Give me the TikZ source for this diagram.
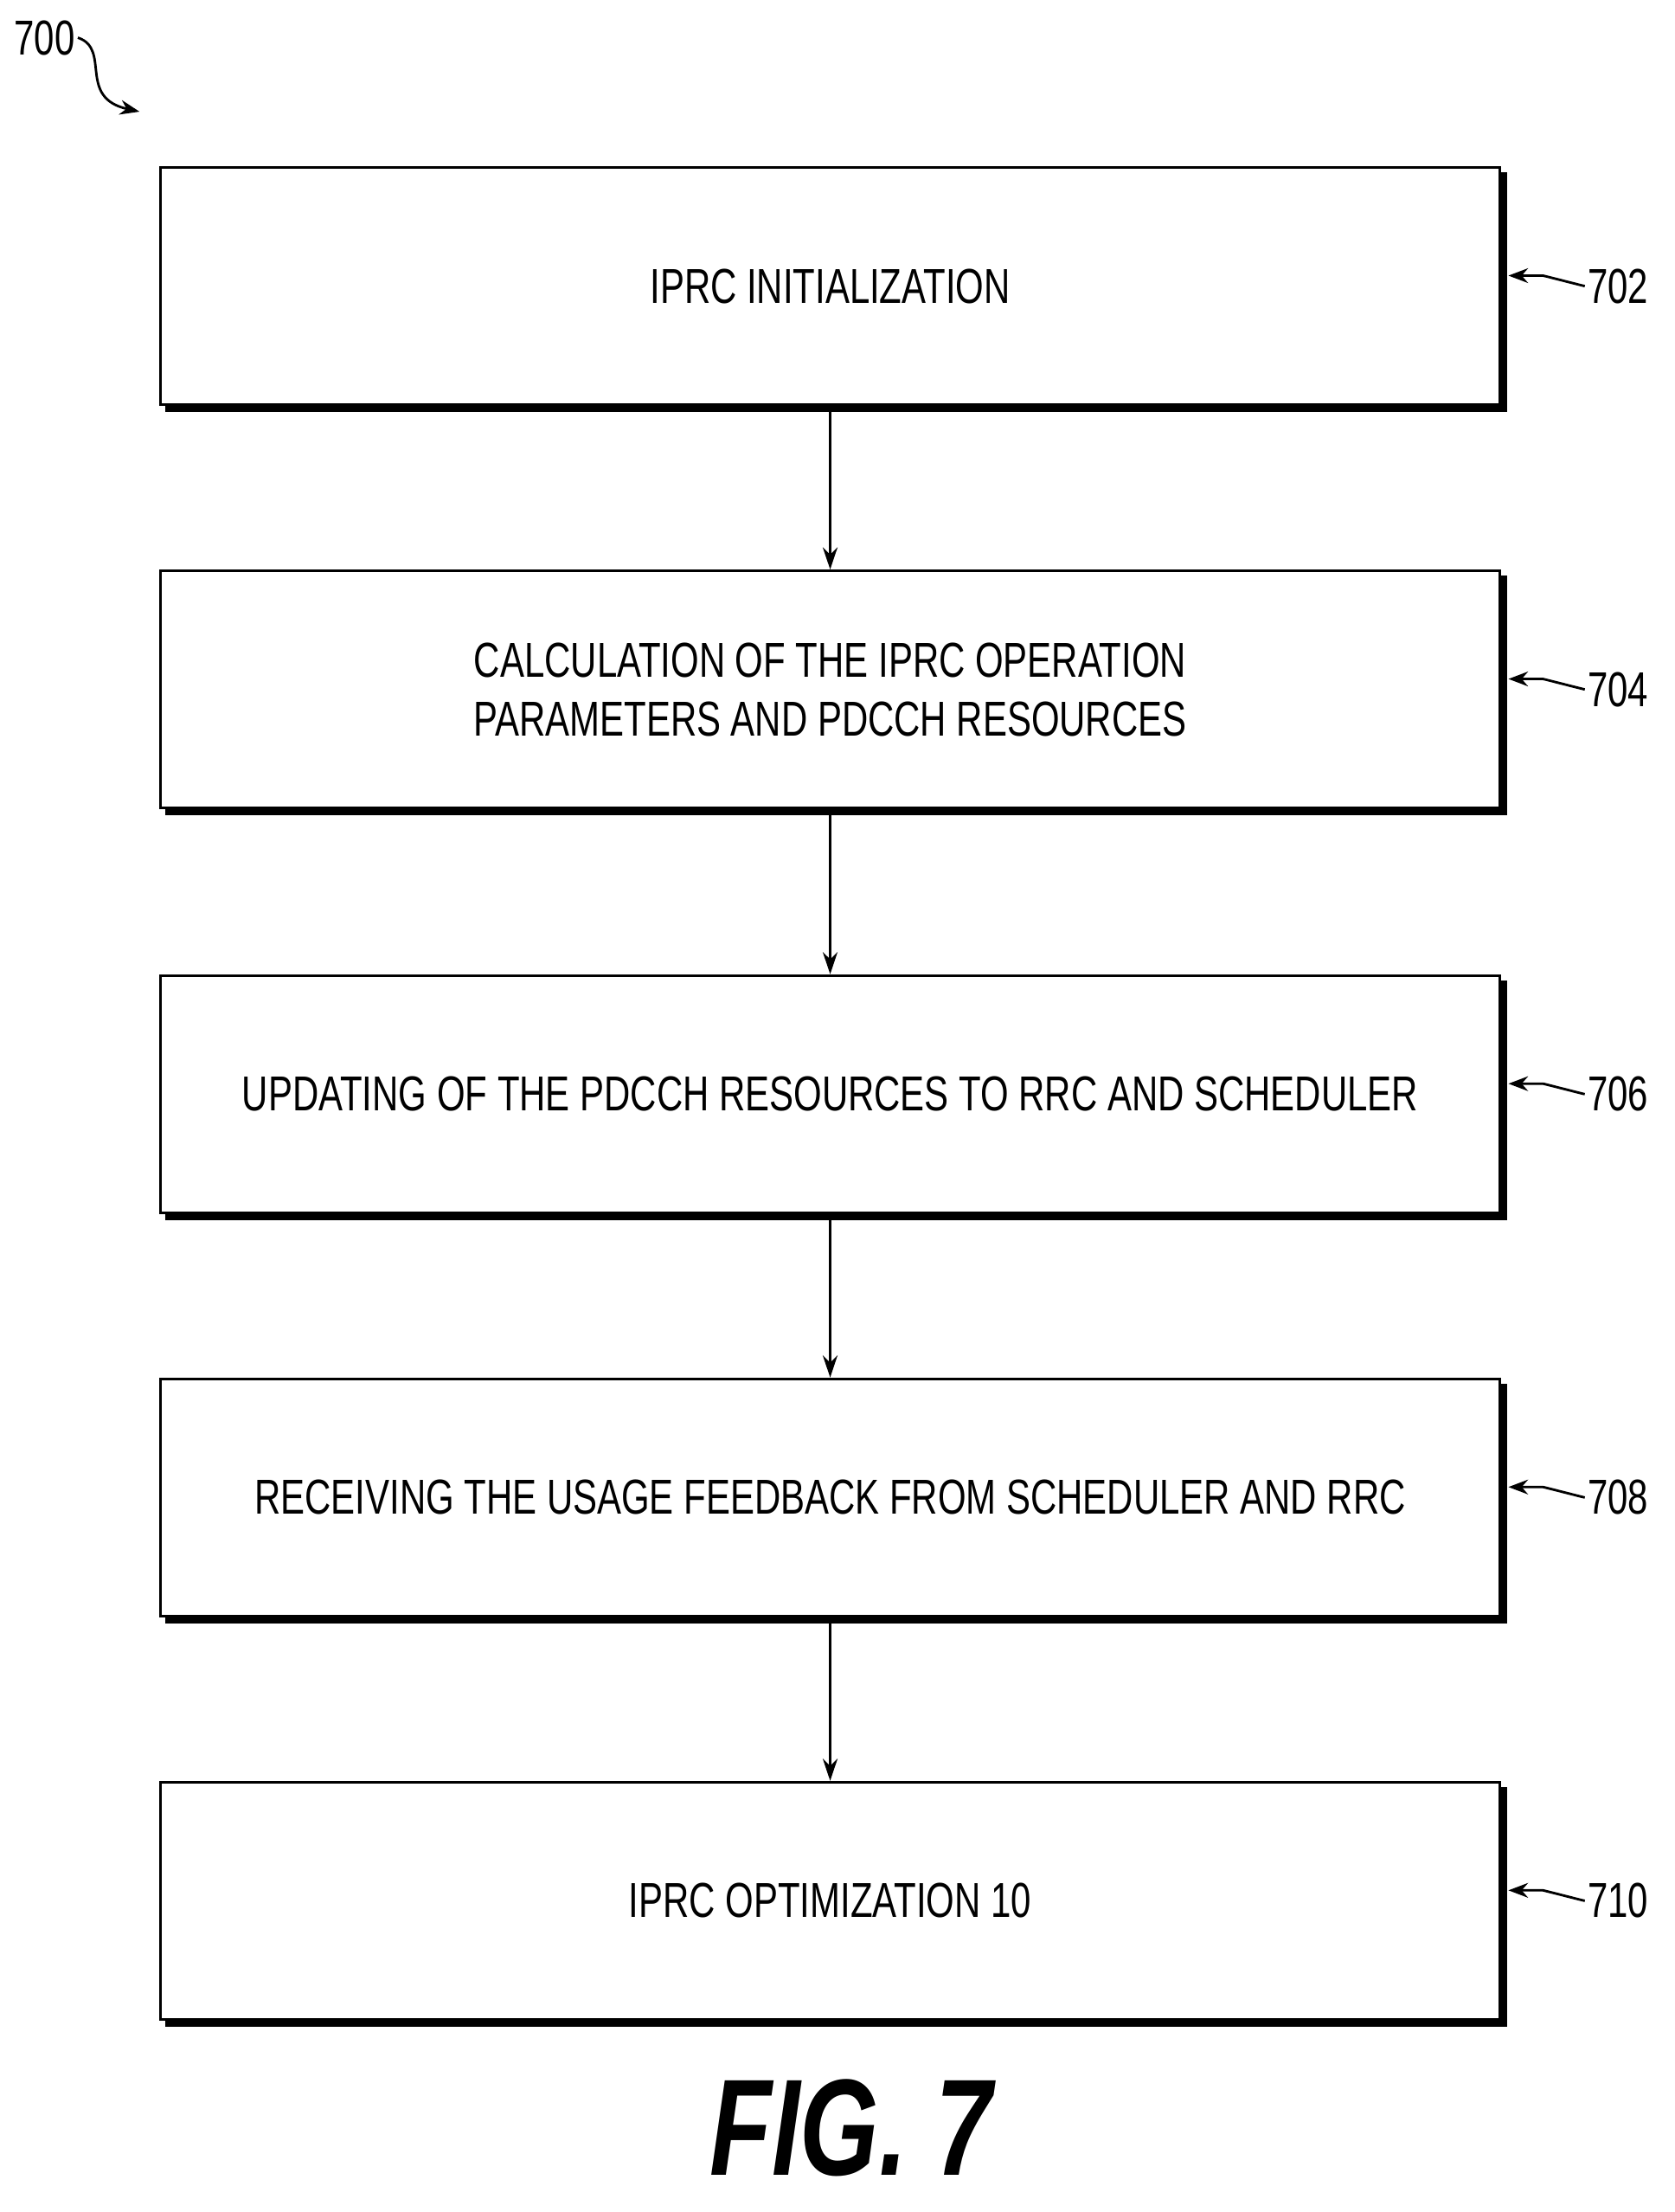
\documentclass[tikz,border=0pt]{standalone}
\usepackage{fontspec}
\setmainfont{Liberation Sans}[FakeStretch=0.74]
\usetikzlibrary{positioning,shadows,arrows.meta}
\begin{document}
\begin{tikzpicture}[x=0.02cm,y=-0.02cm,
  box/.style={draw,line width=1.1pt,fill=white,minimum width=19.2cm,minimum height=3.4cm,
    align=center,font=\fontsize{20}{24}\selectfont,
    copy shadow={shadow xshift=2.5pt,shadow yshift=-2.5pt,fill=black,draw=black}},
  ref/.style={font=\fontsize{20}{24}\selectfont,inner sep=1pt},
  flow/.style={-{Stealth[length=9pt,width=6pt]},line width=1.1pt}]
\useasboundingbox (0,0) rectangle (1200,1585);
% steps
\node[box] (s702) at (595,205) {IPRC INITIALIZATION};
\node[box] (s704) at (595,494) {CALCULATION OF THE IPRC OPERATION\\PARAMETERS AND PDCCH RESOURCES};
\node[box] (s706) at (595,784) {UPDATING OF THE PDCCH RESOURCES TO RRC AND SCHEDULER};
\node[box] (s708) at (595,1073) {RECEIVING THE USAGE FEEDBACK FROM SCHEDULER AND RRC};
\node[box] (s710) at (595,1362) {IPRC OPTIMIZATION 10};
\foreach \a/\b in {702/704,704/706,706/708,708/710}
  \draw[flow] (s\a) -- (s\b);
% reference numerals
\foreach \n in {702,704,706,708,710}{
  \node[ref,anchor=west] (l\n) at ([xshift=1.2cm]s\n.east) {\n};
  \draw[-{Stealth[length=8pt,width=6pt]},line width=1pt] (l\n.west) .. controls +(-0.5,0) and +(0.5,0) .. ([xshift=0.6cm,yshift=0.15cm]s\n.east) -- ([xshift=3pt,yshift=0.15cm]s\n.east);
}
\node[ref] (l700) at (32,27) {700};
\draw[-{Stealth[length=8pt,width=6pt]},line width=1pt] (l700.east) .. controls (80,35) and (55,70) .. (100,80);
\node[font=\fontsize{56}{60}\selectfont\bfseries\itshape] (fig) at (610,1525) {FIG. 7};
\end{tikzpicture}
\end{document}
